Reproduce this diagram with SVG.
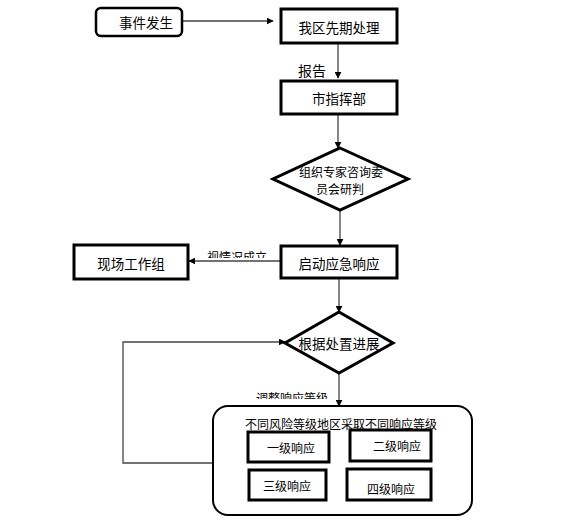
<svg xmlns="http://www.w3.org/2000/svg" width="564" height="520" viewBox="0 0 564 520">
<defs>
<marker id="arr" viewBox="0 0 10 10" refX="9" refY="5" markerWidth="7" markerHeight="7" markerUnits="userSpaceOnUse" orient="auto">
<path d="M0,0 L10,5 L0,10 z" fill="#000"/>
</marker>
<clipPath id="c1"><rect x="200" y="240" width="80" height="18"/></clipPath>
<clipPath id="c2"><rect x="250" y="385" width="90" height="14"/></clipPath>
<style>
text{font-family:"Noto Sans CJK SC","Liberation Sans",sans-serif;fill:#000;}
.n{font-size:13.5px;text-anchor:middle;dominant-baseline:central;}
.s{font-size:12px;text-anchor:middle;dominant-baseline:central;}
.box{fill:#fff;stroke:#000;stroke-width:3;}
.c{fill:none;stroke:#444;stroke-width:1.3;marker-end:url(#arr);}
</style>
</defs>
<rect width="564" height="520" fill="#fff"/>
<g id="connectors">
<path class="c" d="M182,21 L273,21"/>
<path class="c" d="M338,43 L338,78"/>
<path class="c" d="M338,114 L338,148"/>
<path class="c" d="M340,210 L340,245"/>
<path class="c" d="M281,261 L189,261"/>
<path class="c" d="M339,278 L339,312"/>
<path class="c" d="M339,373 L339,406"/>
<path class="c" d="M213,463 L123,463 L123,342 L285,342"/>
<text x="298" y="76" style="font-size:14px">报告</text>
<text x="207" y="262" style="font-size:12px" clip-path="url(#c1)">视情况成立</text>
<text x="256" y="403" style="font-size:12px" clip-path="url(#c2)">调整响应等级</text>
</g>
<g id="n1"><rect x="96" y="8" width="86" height="28" rx="5" fill="#fff" stroke="#000" stroke-width="2.5"/><text class="n" x="146" y="22">事件发生</text></g>
<g id="n2"><rect class="box" x="281" y="9" width="116" height="34"/><text class="n" x="339" y="27">我区先期处理</text></g>
<g id="n3"><rect class="box" x="281" y="81" width="116" height="33"/><text class="n" x="339" y="98">市指挥部</text></g>
<g id="n4"><path class="box" d="M340,148 L408,179 L340,210 L273,179 z" stroke-width="2.5"/><text class="s" x="341" y="171">组织专家咨询委</text><text class="s" x="340" y="188">员会研判</text></g>
<g id="n5"><rect class="box" x="281" y="246" width="116" height="32"/><text class="n" x="339" y="263">启动应急响应</text></g>
<g id="n6"><rect class="box" x="74" y="245" width="114" height="34"/><text class="n" x="131" y="263">现场工作组</text></g>
<g id="n7"><path class="box" d="M339,312 L393,343 L339,373 L285,343 z" stroke-width="2.5"/><text class="n" x="339" y="343">根据处置进展</text></g>
<g id="n8"><rect x="213" y="406" width="259" height="109" rx="15" fill="#fff" stroke="#000" stroke-width="2"/><text class="s" x="341" y="423">不同风险等级地区采取不同响应等级</text></g>
<g id="n9"><rect class="box" x="248" y="432" width="81" height="30"/><text class="s" x="291" y="447">一级响应</text></g>
<g id="n10"><rect class="box" x="350" y="430" width="81" height="31"/><text class="s" x="397" y="445">二级响应</text></g>
<g id="n11"><rect class="box" x="249" y="470" width="77" height="30"/><text class="s" x="287" y="485">三级响应</text></g>
<g id="n12"><rect class="box" x="347" y="469" width="84" height="31"/><text class="s" x="391" y="488">四级响应</text></g>
</svg>
